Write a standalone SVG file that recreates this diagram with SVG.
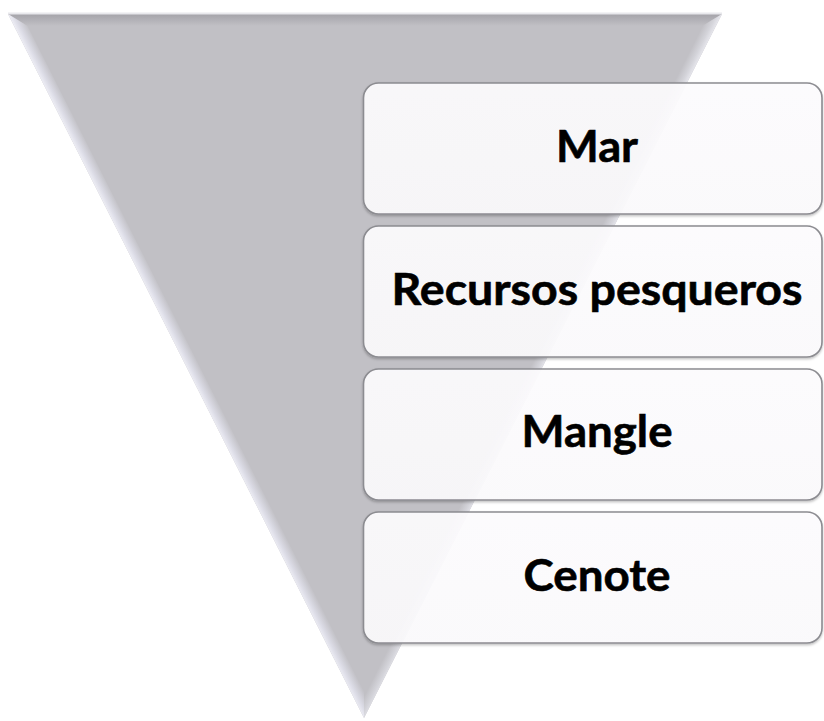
<svg xmlns="http://www.w3.org/2000/svg" width="824" height="721" viewBox="0 0 824 721">
  <defs>
    <linearGradient id="gTop" x1="0" y1="14" x2="0" y2="26" gradientUnits="userSpaceOnUse">
      <stop offset="0" stop-color="#a4a3a9"/>
      <stop offset="1" stop-color="#c1c0c5"/>
    </linearGradient>
    <linearGradient id="gLeft" x1="8" y1="14" x2="19.7" y2="8.1" gradientUnits="userSpaceOnUse">
      <stop offset="0" stop-color="#eeeef5"/>
      <stop offset="0.35" stop-color="#dcdce6"/>
      <stop offset="1" stop-color="#c1c0c5"/>
    </linearGradient>
    <linearGradient id="gRight" x1="722" y1="14" x2="711.3" y2="8.6" gradientUnits="userSpaceOnUse">
      <stop offset="0" stop-color="#e6e6ec"/>
      <stop offset="0.4" stop-color="#d4d4da"/>
      <stop offset="1" stop-color="#c1c0c5"/>
    </linearGradient>
    <linearGradient id="gBox" x1="0" y1="0" x2="0" y2="1">
      <stop offset="0" stop-color="#fefdff"/>
      <stop offset="1" stop-color="#fcfbfd"/>
    </linearGradient>
    <filter id="shadow" x="-5%" y="-10%" width="110%" height="125%">
      <feDropShadow dx="0" dy="1.5" stdDeviation="1.2" flood-color="#000" flood-opacity="0.25"/>
    </filter>
  </defs>
  <style>
    .box { fill: url(#gBox); fill-opacity: 0.92; stroke: #8c8c91; stroke-width: 1.6; }
    .label { font-family: Lato, "Open Sans", "Liberation Sans", sans-serif; font-weight: bold; font-size: 44px; fill: #000; stroke: #000; stroke-width: 0.6; text-anchor: middle; }
  </style>

  <g id="funnel">
    <polygon points="8,14 722,14 364,718" fill="#c1c0c5"/>
    <polygon points="8,14 722,14 702.4,26 27.5,26" fill="url(#gTop)"/>
    <polygon points="8,14 27.5,26 364,691.5 364,718" fill="url(#gLeft)"/>
    <polygon points="722,14 364,718 364,691.5 702.4,26" fill="url(#gRight)"/>
    <line x1="8" y1="13.5" x2="722" y2="13.5" stroke="#e8e8ec" stroke-width="2"/>
  </g>

  <g id="connectors"></g>

  <g id="node-mar">
    <rect class="box" x="363.5" y="83" width="458.5" height="131" rx="15" filter="url(#shadow)"/>
    <text class="label" x="597" y="162" textLength="82" lengthAdjust="spacingAndGlyphs">Mar</text>
  </g>
  <g id="node-recursos">
    <rect class="box" x="363.5" y="226" width="458.5" height="131" rx="15" filter="url(#shadow)"/>
    <text class="label" x="597" y="305" textLength="411" lengthAdjust="spacingAndGlyphs">Recursos pesqueros</text>
  </g>
  <g id="node-mangle">
    <rect class="box" x="363.5" y="369" width="458.5" height="131" rx="15" filter="url(#shadow)"/>
    <text class="label" x="597" y="447" textLength="151" lengthAdjust="spacingAndGlyphs">Mangle</text>
  </g>
  <g id="node-cenote">
    <rect class="box" x="363.5" y="512" width="458.5" height="131" rx="15" filter="url(#shadow)"/>
    <text class="label" x="597" y="591" textLength="147" lengthAdjust="spacingAndGlyphs">Cenote</text>
  </g>
</svg>
